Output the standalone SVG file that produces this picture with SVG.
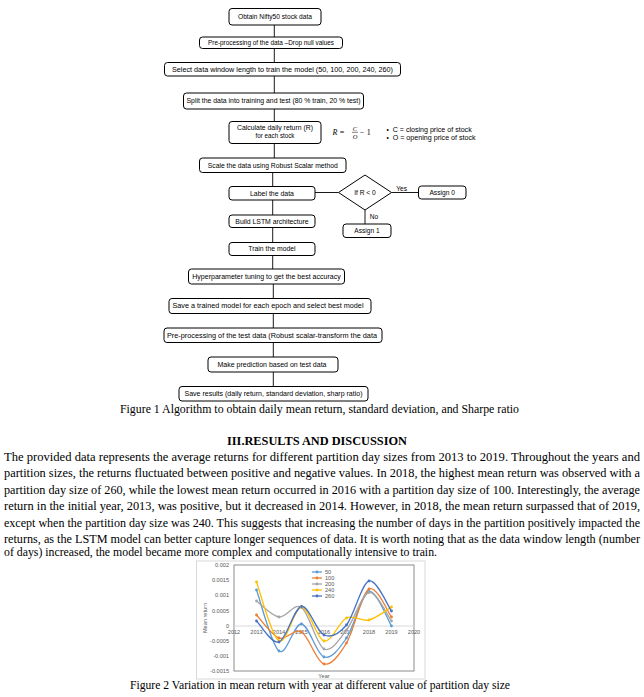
<svg xmlns="http://www.w3.org/2000/svg" width="644" height="697" viewBox="0 0 644 697">
<style>
.box{fill:#fff;stroke:#000;stroke-width:1}
.ft{font-family:"Liberation Sans",Arial,sans-serif;font-size:6.6px;fill:#000;text-anchor:middle}
.fl{font-family:"Liberation Sans",Arial,sans-serif;font-size:6.6px;fill:#000;text-anchor:start}
.con line{stroke:#000;stroke-width:0.9}
.serif{font-family:"Liberation Serif","Times New Roman",serif;fill:#000}
.ct{font-family:"Liberation Sans",Arial,sans-serif;font-size:5.6px;fill:#595959}
.ser{fill:none;stroke-width:1.3}
</style>
<rect width="644" height="697" fill="#fff"/>
<g id="connectors" class="con">
<line x1="274.3" y1="25" x2="274.3" y2="37"/>
<line x1="274.3" y1="48.5" x2="274.3" y2="62.5"/>
<line x1="274.3" y1="76" x2="274.3" y2="93"/>
<line x1="274.3" y1="109" x2="274.3" y2="121.5"/>
<line x1="274.3" y1="143.5" x2="274.3" y2="158"/>
<line x1="272.7" y1="172.5" x2="272.7" y2="186.5"/>
<line x1="272.7" y1="200" x2="272.7" y2="215"/>
<line x1="272.7" y1="227.5" x2="272.7" y2="242.5"/>
<line x1="272.7" y1="255.5" x2="272.7" y2="269"/>
<line x1="273.3" y1="284" x2="273.3" y2="298.5"/>
<line x1="273.3" y1="313.5" x2="273.3" y2="328"/>
<line x1="273.3" y1="342.5" x2="273.3" y2="357"/>
<line x1="273.3" y1="372" x2="273.3" y2="386.5"/>
<line x1="315" y1="192.5" x2="338.5" y2="192.5"/>
<line x1="391.5" y1="192.5" x2="418.5" y2="192.5"/>
<line x1="365" y1="210" x2="365" y2="224"/>
</g>
<g id="n1"><rect class="box" x="229" y="8.5" width="92" height="16.5" rx="3"/><text class="ft" x="275" y="19.1" textLength="74" lengthAdjust="spacingAndGlyphs">Obtain Nifty50 stock data</text></g>
<g id="n2"><rect class="box" x="199.5" y="37" width="143" height="11.5" rx="3"/><text class="ft" x="271" y="45" textLength="126" lengthAdjust="spacingAndGlyphs">Pre-processing of the data –Drop null values</text></g>
<g id="n3"><rect class="box" x="164.5" y="62.5" width="236" height="13.5" rx="3"/><text class="ft" x="282.5" y="71.6" textLength="221" lengthAdjust="spacingAndGlyphs">Select data window length to train the model (50, 100, 200, 240, 260)</text></g>
<g id="n4"><rect class="box" x="183.5" y="93" width="180" height="16" rx="3"/><text class="ft" x="273.5" y="103.4" textLength="174" lengthAdjust="spacingAndGlyphs">Split the data into training and test (80 % train, 20 % test)</text></g>
<g id="n5"><rect class="box" x="229" y="121.5" width="92" height="22" rx="3"/><text class="ft" x="275" y="130" textLength="76" lengthAdjust="spacingAndGlyphs">Calculate daily return (R)</text><text class="ft" x="275" y="138.4" textLength="39" lengthAdjust="spacingAndGlyphs">for each stock</text></g>
<g id="formula">
<text class="serif" x="335" y="134.5" font-size="8" font-style="italic" text-anchor="middle">R</text>
<text class="serif" x="342" y="134.5" font-size="8" text-anchor="middle">=</text>
<text class="serif" x="355" y="130.6" font-size="6.5" font-style="italic" text-anchor="middle">C</text>
<line x1="352" y1="132.3" x2="358" y2="132.3" stroke="#000" stroke-width="0.5"/>
<text class="serif" x="355" y="139" font-size="6.5" font-style="italic" text-anchor="middle">O</text>
<text class="serif" x="362" y="134.5" font-size="8" text-anchor="middle">−</text>
<text class="serif" x="368.7" y="134.5" font-size="8" text-anchor="middle">1</text>
<text class="fl" x="386.5" y="132">•</text>
<text class="fl" x="392.7" y="132" textLength="79" lengthAdjust="spacingAndGlyphs">C = closing price of stock</text>
<text class="fl" x="386.5" y="139.6">•</text>
<text class="fl" x="392.7" y="139.6" textLength="83" lengthAdjust="spacingAndGlyphs">O = opening price of stock</text>
</g>
<g id="n6"><rect class="box" x="199.5" y="158" width="146.5" height="14.5" rx="3"/><text class="ft" x="272.75" y="167.6" textLength="130" lengthAdjust="spacingAndGlyphs">Scale the data using Robust Scalar method</text></g>
<g id="n7"><rect class="box" x="229" y="186.5" width="86" height="13.5" rx="3"/><text class="ft" x="272" y="195.6" textLength="44" lengthAdjust="spacingAndGlyphs">Label the data</text></g>
<g id="d1"><polygon class="box" points="365,175 391.5,192.5 365,210 338.5,192.5"/><text class="ft" x="365" y="194.8" textLength="21.7" lengthAdjust="spacingAndGlyphs">If R &lt; 0</text></g>
<g id="n_assign0"><rect class="box" x="418.5" y="186" width="47.5" height="13" rx="3"/><text class="ft" x="442.25" y="194.8" textLength="25.7" lengthAdjust="spacingAndGlyphs">Assign 0</text></g>
<g id="n_assign1"><rect class="box" x="343" y="224" width="48" height="13.5" rx="3"/><text class="ft" x="367" y="233.1" textLength="25.3" lengthAdjust="spacingAndGlyphs">Assign 1</text></g>
<g id="lbl_yes"><text class="ft" x="401.7" y="190.6">Yes</text></g>
<g id="lbl_no"><text class="ft" x="374" y="219">No</text></g>
<g id="n8"><rect class="box" x="229" y="215" width="86" height="12.5" rx="3"/><text class="ft" x="272" y="223.6" textLength="73.3" lengthAdjust="spacingAndGlyphs">Build LSTM architecture</text></g>
<g id="n9"><rect class="box" x="229" y="242.5" width="86" height="13" rx="3"/><text class="ft" x="272" y="251.4" textLength="47.3" lengthAdjust="spacingAndGlyphs">Train the model</text></g>
<g id="n10"><rect class="box" x="188.5" y="269" width="156" height="15" rx="3"/><text class="ft" x="266.5" y="278.9" textLength="148.5" lengthAdjust="spacingAndGlyphs">Hyperparameter tuning to get the best accuracy</text></g>
<g id="n11"><rect class="box" x="169" y="298.5" width="202" height="15" rx="3"/><text class="ft" x="268" y="308.4" textLength="191" lengthAdjust="spacingAndGlyphs">Save a trained model for each epoch and select best model</text></g>
<g id="n12"><rect class="box" x="164" y="328" width="218" height="14.5" rx="3"/><text class="ft" x="272" y="337.6" textLength="210" lengthAdjust="spacingAndGlyphs">Pre-processing of the test data (Robust scalar-transform the data</text></g>
<g id="n13"><rect class="box" x="208" y="357" width="130" height="15" rx="3"/><text class="ft" x="272" y="366.9" textLength="109" lengthAdjust="spacingAndGlyphs">Make prediction based on test data</text></g>
<g id="n14"><rect class="box" x="179" y="386.5" width="189" height="14.5" rx="3"/><text class="ft" x="273.5" y="396.1" textLength="178" lengthAdjust="spacingAndGlyphs">Save results (daily return, standard deviation, sharp ratio)</text></g>
<text class="serif" x="319.5" y="413" font-size="12" text-anchor="middle" textLength="399" lengthAdjust="spacingAndGlyphs">Figure 1 Algorithm to obtain daily mean return, standard deviation, and Sharpe ratio</text>
<text class="serif" x="317" y="445" font-size="12.5" font-weight="bold" text-anchor="middle" textLength="180" lengthAdjust="spacingAndGlyphs">III.RESULTS AND DISCUSSION</text>
<g class="serif" font-size="12">
<text x="4" y="461" textLength="636" lengthAdjust="spacingAndGlyphs">The provided data represents the average returns for different partition day sizes from 2013 to 2019. Throughout the years and</text>
<text x="4" y="477" textLength="636" lengthAdjust="spacingAndGlyphs">partition sizes, the returns fluctuated between positive and negative values. In 2018, the highest mean return was observed with a</text>
<text x="4" y="493.5" textLength="636" lengthAdjust="spacingAndGlyphs">partition day size of 260, while the lowest mean return occurred in 2016 with a partition day size of 100. Interestingly, the average</text>
<text x="4" y="510" textLength="636" lengthAdjust="spacingAndGlyphs">return in the initial year, 2013, was positive, but it decreased in 2014. However, in 2018, the mean return surpassed that of 2019,</text>
<text x="4" y="526.5" textLength="636" lengthAdjust="spacingAndGlyphs">except when the partition day size was 240. This suggests that increasing the number of days in the partition positively impacted the</text>
<text x="4" y="543" textLength="636" lengthAdjust="spacingAndGlyphs">returns, as the LSTM model can better capture longer sequences of data. It is worth noting that as the data window length (number</text>
<text x="4" y="556" textLength="433" lengthAdjust="spacingAndGlyphs">of days) increased, the model became more complex and computationally intensive to train.</text>
</g>
<g id="chart">
<rect x="196.5" y="561" width="228.5" height="118" fill="#fff" stroke="#D9D9D9" stroke-width="1"/>
<rect x="234" y="565" width="180" height="106" fill="none" stroke="#8C8C8C" stroke-width="1"/>
<line x1="234" y1="626" x2="414" y2="626" stroke="#D9D9D9" stroke-width="1"/>
<g class="ct" text-anchor="end">
<text x="229" y="567">0.002</text>
<text x="229" y="582.1">0.0015</text>
<text x="229" y="597.3">0.001</text>
<text x="229" y="612.6">0.0005</text>
<text x="229" y="628">0</text>
<text x="229" y="643">-0.0005</text>
<text x="229" y="658">-0.001</text>
<text x="229" y="673">-0.0015</text>
</g>
<g class="ct" text-anchor="middle">
<text x="234" y="634">2012</text>
<text x="256.5" y="634">2013</text>
<text x="279" y="634">2014</text>
<text x="301.5" y="634">2015</text>
<text x="324" y="634">2016</text>
<text x="346.5" y="634">2017</text>
<text x="369" y="634">2018</text>
<text x="391.5" y="634">2019</text>
<text x="414" y="634">2020</text>
<text x="324" y="677.5">Year</text>
<text transform="translate(207,618) rotate(-90)" x="0" y="0">Mean return</text>
</g>
<path class="ser" stroke="#5B9BD5" d="M256.5,590 C260.25,600.17 271.5,645.33 279,651 C286.5,656.67 294,623 301.5,624 C309,625 316.5,654.67 324,657 C331.5,659.33 339,648.92 346.5,638 C354,627.08 361.5,593.5 369,591.5 C376.5,589.5 387.75,620.25 391.5,626"/>
<path class="ser" stroke="#ED7D31" d="M256.5,615 C260.25,618.83 271.5,635.17 279,638 C286.5,640.83 294,627.67 301.5,632 C309,636.33 316.5,662.17 324,664 C331.5,665.83 339,655.5 346.5,643 C354,630.5 361.5,593.33 369,589 C376.5,584.67 387.75,612.33 391.5,617"/>
<path class="ser" stroke="#A5A5A5" d="M256.5,601 C260.25,603.67 271.5,615.92 279,617 C286.5,618.08 294,602.17 301.5,607.5 C309,612.83 316.5,645.25 324,649 C331.5,652.75 339,639.42 346.5,630 C354,620.58 361.5,594 369,592.5 C376.5,591 387.75,616.25 391.5,621"/>
<path class="ser" stroke="#FFC000" d="M256.5,582 C260.25,591.83 271.5,636.83 279,641 C286.5,645.17 294,607 301.5,607 C309,607 316.5,639.17 324,641 C331.5,642.83 339,621.5 346.5,618 C354,614.5 361.5,621.83 369,620 C376.5,618.17 387.75,609.17 391.5,607"/>
<path class="ser" stroke="#4472C4" d="M256.5,621 C260.25,624.5 271.5,644.42 279,642 C286.5,639.58 294,607.67 301.5,606.5 C309,605.33 316.5,631.92 324,635 C331.5,638.08 339,634 346.5,625 C354,616 361.5,583.33 369,581 C376.5,578.67 387.75,606 391.5,611"/>
<g fill="#5B9BD5"><circle cx="256.5" cy="590" r="1.4"/><circle cx="279" cy="651" r="1.4"/><circle cx="301.5" cy="624" r="1.4"/><circle cx="324" cy="657" r="1.4"/><circle cx="346.5" cy="638" r="1.4"/><circle cx="369" cy="591.5" r="1.4"/><circle cx="391.5" cy="626" r="1.4"/></g>
<g fill="#ED7D31"><circle cx="256.5" cy="615" r="1.4"/><circle cx="279" cy="638" r="1.4"/><circle cx="301.5" cy="632" r="1.4"/><circle cx="324" cy="664" r="1.4"/><circle cx="346.5" cy="643" r="1.4"/><circle cx="369" cy="589" r="1.4"/><circle cx="391.5" cy="617" r="1.4"/></g>
<g fill="#A5A5A5"><circle cx="256.5" cy="601" r="1.4"/><circle cx="279" cy="617" r="1.4"/><circle cx="301.5" cy="607.5" r="1.4"/><circle cx="324" cy="649" r="1.4"/><circle cx="346.5" cy="630" r="1.4"/><circle cx="369" cy="592.5" r="1.4"/><circle cx="391.5" cy="621" r="1.4"/></g>
<g fill="#FFC000"><circle cx="256.5" cy="582" r="1.4"/><circle cx="279" cy="641" r="1.4"/><circle cx="301.5" cy="607" r="1.4"/><circle cx="324" cy="641" r="1.4"/><circle cx="346.5" cy="618" r="1.4"/><circle cx="369" cy="620" r="1.4"/><circle cx="391.5" cy="607" r="1.4"/></g>
<g fill="#4472C4"><circle cx="256.5" cy="621" r="1.4"/><circle cx="279" cy="642" r="1.4"/><circle cx="301.5" cy="606.5" r="1.4"/><circle cx="324" cy="635" r="1.4"/><circle cx="346.5" cy="625" r="1.4"/><circle cx="369" cy="581" r="1.4"/><circle cx="391.5" cy="611" r="1.4"/></g>
<g id="legend">
<line x1="312" y1="572" x2="322" y2="572" stroke="#5B9BD5" stroke-width="1.3"/><circle cx="317" cy="572" r="1.4" fill="#5B9BD5"/><text class="ct" x="325" y="574">50</text>
<line x1="312" y1="578" x2="322" y2="578" stroke="#ED7D31" stroke-width="1.3"/><circle cx="317" cy="578" r="1.4" fill="#ED7D31"/><text class="ct" x="325" y="580">100</text>
<line x1="312" y1="584" x2="322" y2="584" stroke="#A5A5A5" stroke-width="1.3"/><circle cx="317" cy="584" r="1.4" fill="#A5A5A5"/><text class="ct" x="325" y="586">200</text>
<line x1="312" y1="590" x2="322" y2="590" stroke="#FFC000" stroke-width="1.3"/><circle cx="317" cy="590" r="1.4" fill="#FFC000"/><text class="ct" x="325" y="592">240</text>
<line x1="312" y1="596" x2="322" y2="596" stroke="#4472C4" stroke-width="1.3"/><circle cx="317" cy="596" r="1.4" fill="#4472C4"/><text class="ct" x="325" y="598">260</text>
</g>
</g>
<text class="serif" x="320" y="688.5" font-size="12" text-anchor="middle" textLength="380" lengthAdjust="spacingAndGlyphs">Figure 2 Variation in mean return with year at different value of partition day size</text>
</svg>
